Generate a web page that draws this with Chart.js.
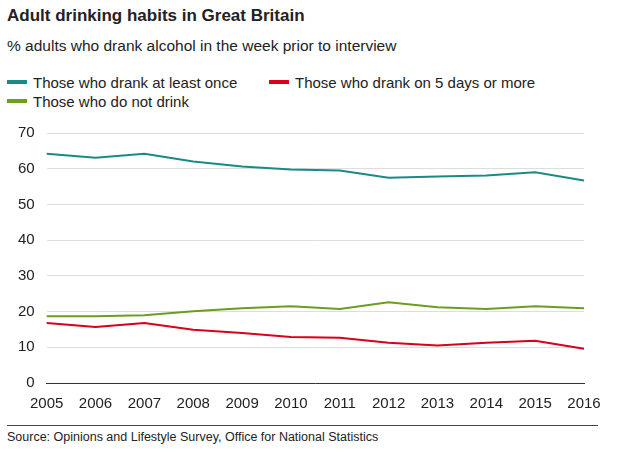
<!DOCTYPE html>
<html>
<head>
<meta charset="utf-8">
<script src="https://cdn.jsdelivr.net/npm/chart.js@4"></script>
<style>
  body { margin: 0; width: 620px; height: 457px; background: #fff; font-family: "Liberation Sans", Arial, sans-serif; color: #222; position: relative; overflow: hidden; }
  h1 { position: absolute; left: 7px; top: 6px; margin: 0; font-size: 17px; font-weight: bold; }
  .sub { position: absolute; left: 7px; top: 37px; font-size: 15.5px; }
  .legend { position: absolute; left: 7px; top: 73px; font-size: 15px; line-height: 19px; }
  .item { position: absolute; white-space: nowrap; }
  .sw { display: inline-block; width: 20px; height: 4px; vertical-align: middle; margin-right: 6px; position: relative; top: -2px; }
  #wrap { position: absolute; left: 0; top: 112px; width: 610px; height: 305px; }
  .rule { position: absolute; left: 7px; right: 22px; top: 425px; border-top: 1px solid #444; }
  .src { position: absolute; left: 7px; top: 430px; font-size: 12.5px; }
</style>
</head>
<body>
<h1>Adult drinking habits in Great Britain</h1>
<div class="sub">% adults who drank alcohol in the week prior to interview</div>
<div class="legend">
  <div class="item" style="left:0;top:0"><span class="sw" style="background:#1a8a85"></span>Those who drank at least once</div>
  <div class="item" style="left:262px;top:0"><span class="sw" style="background:#d8001a"></span>Those who drank on 5 days or more</div>
  <div class="item" style="left:0;top:19px"><span class="sw" style="background:#6b9e1f"></span>Those who do not drink</div>
</div>
<div id="wrap"><canvas id="chart"></canvas></div>
<div class="rule"></div>
<div class="src">Source: Opinions and Lifestyle Survey, Office for National Statistics</div>
<script>
const years = ['2005','2006','2007','2008','2009','2010','2011','2012','2013','2014','2015','2016'];
const atLeastOnce = [64.2, 63.1, 64.2, 62.0, 60.6, 59.8, 59.5, 57.5, 57.8, 58.1, 59.0, 56.7];
const fiveOrMore = [16.8, 15.7, 16.8, 14.9, 14.0, 12.9, 12.7, 11.3, 10.5, 11.3, 11.8, 9.6];
const doNotDrink = [18.7, 18.7, 19.0, 20.1, 20.9, 21.5, 20.7, 22.6, 21.2, 20.7, 21.5, 20.9];

function line(data, color) {
    return { data: data, borderColor: color, borderWidth: 2, pointRadius: 0, tension: 0, fill: false };
}

new Chart(document.getElementById('chart'), {
    type: 'line',
    data: {
        labels: years,
        datasets: [
            line(atLeastOnce, '#1a8a85'),
            line(fiveOrMore, '#d8001a'),
            line(doNotDrink, '#6b9e1f')
        ]
    },
    options: {
        responsive: true,
        maintainAspectRatio: false,
        animation: false,
        layout: { padding: { left: 6, right: 26, top: 0 } },
        plugins: { legend: { display: false }, tooltip: { enabled: false } },
        scales: {
            x: {
                offset: false,
                grid: { display: false },
                border: { color: '#333' },
                ticks: { color: '#222', font: { size: 15, family: 'Liberation Sans' }, maxRotation: 0, padding: 4 }
            },
            y: {
                min: 0, max: 70,
                grid: { color: '#ddd', drawTicks: false },
                border: { display: false },
                ticks: { stepSize: 10, color: '#222', font: { size: 15, family: 'Liberation Sans' }, padding: 12 }
            }
        }
    }
});
</script>
</body>
</html>
